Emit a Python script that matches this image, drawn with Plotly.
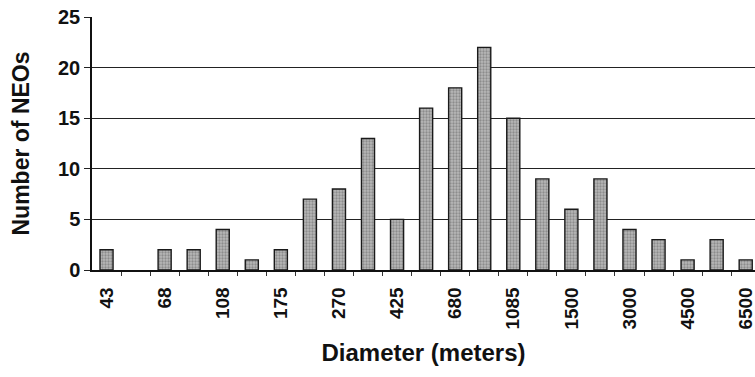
import plotly.graph_objects as go

# Diameter bins (only every other bin is labelled in the original)
bin_labels = ["43", "", "68", "", "108", "", "175", "", "270", "", "425", "",
              "680", "", "1085", "", "1500", "", "3000", "", "4500", "", "6500"]
neo_counts = [2, 0, 2, 2, 4, 1, 2, 7, 8, 13, 5, 16, 18, 22, 15, 9, 6, 9, 4, 3, 1, 3, 1]
y_ticks = [0, 5, 10, 15, 20, 25]

x_pos = list(range(len(neo_counts)))
tick_pos = [i for i, lab in enumerate(bin_labels) if lab]
tick_txt = [lab for lab in bin_labels if lab]

FONT = "Liberation Sans, Arial, Helvetica, sans-serif"

fig = go.Figure(go.Bar(
    x=x_pos, y=neo_counts,
    marker=dict(color="#a0a0a0",
                line=dict(color="#1a1a1a", width=[0 if v == 0 else 1.4 for v in neo_counts]),
                pattern=dict(shape=".", fgcolor="#606060", bgcolor="#b8b8b8", size=3, solidity=0.45)),
    width=0.45,
))

fig.update_layout(
    width=755, height=377,
    margin=dict(l=92, r=0, t=17, b=107),
    paper_bgcolor="white", plot_bgcolor="white",
    showlegend=False,
    font=dict(family=FONT, color="#111", size=20, weight="bold"),
)
fig.update_xaxes(
    range=[-0.5, 22.32], automargin=False,
    tickmode="array", tickvals=tick_pos, ticktext=tick_txt,
    tickangle=-90, ticks="", ticklabelstandoff=8, ticklabeloverflow="allow",
    showgrid=False,
    showline=True, linecolor="#111", linewidth=1.5,
    minor=dict(tickmode="array", tickvals=[i + 0.5 for i in x_pos],
               ticks="outside", ticklen=4, tickcolor="#333", tickwidth=1),
    tickfont=dict(size=19, family=FONT, weight="bold"),
    title=dict(text="Diameter (meters)", font=dict(size=24, family=FONT, weight="bold"), standoff=16),
)
fig.update_yaxes(
    range=[0, 25], automargin=False, tickmode="array", tickvals=y_ticks,
    showgrid=True, gridcolor="#222", gridwidth=1.4,
    showline=True, linecolor="#111", linewidth=1.5,
    ticks="outside", ticklen=6, tickcolor="#222",
    zeroline=False,
    tickfont=dict(size=20, family=FONT, weight="bold"),
    title=dict(text="Number of NEOs", font=dict(size=23, family=FONT, weight="bold"), standoff=22),
)

fig.write_html("out.html", config={"displayModeBar": False},
               post_script="document.body.style.margin='0px';")
